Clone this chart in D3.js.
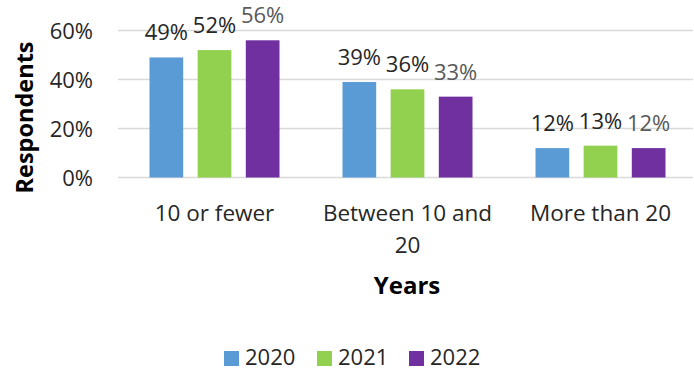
<!DOCTYPE html>
<html><head><meta charset="utf-8">
<script src="https://cdn.jsdelivr.net/npm/d3@7"></script>
<style>body{margin:0;background:#fff}svg{display:block}text{font-family:"Open Sans",sans-serif}</style>
</head><body><svg id="c" width="694" height="370"></svg>
<script>
const categories = ["10 or fewer", "Between 10 and|20", "More than 20"];
const seriesNames = ["2020", "2021", "2022"];
const values2020 = [49, 39, 12];
const values2021 = [52, 36, 13];
const values2022 = [56, 33, 12];
const yTicks = [0, 20, 40, 60];
const colors = ["#5B9BD5", "#92D050", "#7030A0"];
const labelColors = ["#262626", "#262626", "#595959"];
const series = [values2020, values2021, values2022];

const svg = d3.select("#c");
const x0 = d3.scaleBand().domain(categories).range([118, 697]).padding(0);
const x1 = d3.scaleBand().domain(seriesNames).range([31.5, 193 - 31.5]).paddingInner(0.3);
const y = d3.scaleLinear().domain([0, 60]).range([177.5, 30.5]);

// gridlines
svg.append("g").selectAll("line").data(yTicks).join("line")
  .attr("x1", 118).attr("x2", 693)
  .attr("y1", d => y(d)).attr("y2", d => y(d))
  .attr("stroke", "#d9d9d9").attr("stroke-width", 1.5);

// y axis
const yAxis = d3.axisLeft(y).tickValues(yTicks).tickFormat(d => d + "%").tickSize(0).tickPadding(0);
const ya = svg.append("g").attr("transform", "translate(93,0)").call(yAxis);
ya.select(".domain").remove();
ya.selectAll("text").attr("font-size", 22).attr("fill", "#262626")
  .attr("font-family", "'Open Sans',sans-serif").attr("dy", "0.35em");

// bars
seriesNames.forEach((s, i) => {
  const g = svg.append("g");
  g.selectAll("rect").data(series[i]).join("rect")
    .attr("x", (d, j) => x0(categories[j]) + x1(s))
    .attr("width", x1.bandwidth())
    .attr("y", d => y(d))
    .attr("height", d => y(0) - y(d))
    .attr("fill", colors[i]);
  g.selectAll("text").data(series[i]).join("text")
    .attr("x", (d, j) => x0(categories[j]) + x1(s) + x1.bandwidth() / 2)
    .attr("y", d => y(d) - 17)
    .attr("text-anchor", "middle")
    .attr("font-size", 22)
    .attr("fill", labelColors[i])
    .text(d => d + "%");
});

// x axis labels
const xl = svg.append("g");
categories.forEach(c => {
  const lines = c.split("|");
  lines.forEach((ln, k) => {
    xl.append("text")
      .attr("x", x0(c) + x0.bandwidth() / 2)
      .attr("y", 221 + k * 32)
      .attr("text-anchor", "middle")
      .attr("font-size", 22.5)
      .attr("fill", "#262626")
      .text(ln);
  });
});

// axis titles
svg.append("text").attr("x", 407).attr("y", 294).attr("text-anchor", "middle")
  .attr("font-size", 24).attr("font-weight", "bold").attr("fill", "#000").text("Years");
svg.append("text").attr("transform", "translate(33,117.5) rotate(-90)").attr("text-anchor", "middle")
  .attr("font-size", 23.5).attr("font-weight", "bold").attr("fill", "#000").text("Respondents");

// legend
const legX = [224, 317, 409];
const lg = svg.append("g");
seriesNames.forEach((s, i) => {
  lg.append("rect").attr("x", legX[i]).attr("y", 351).attr("width", 15).attr("height", 15).attr("fill", colors[i]);
  lg.append("text").attr("x", legX[i] + 21).attr("y", 365).attr("font-size", 22).attr("fill", "#262626").text(s);
});
</script></body></html>
